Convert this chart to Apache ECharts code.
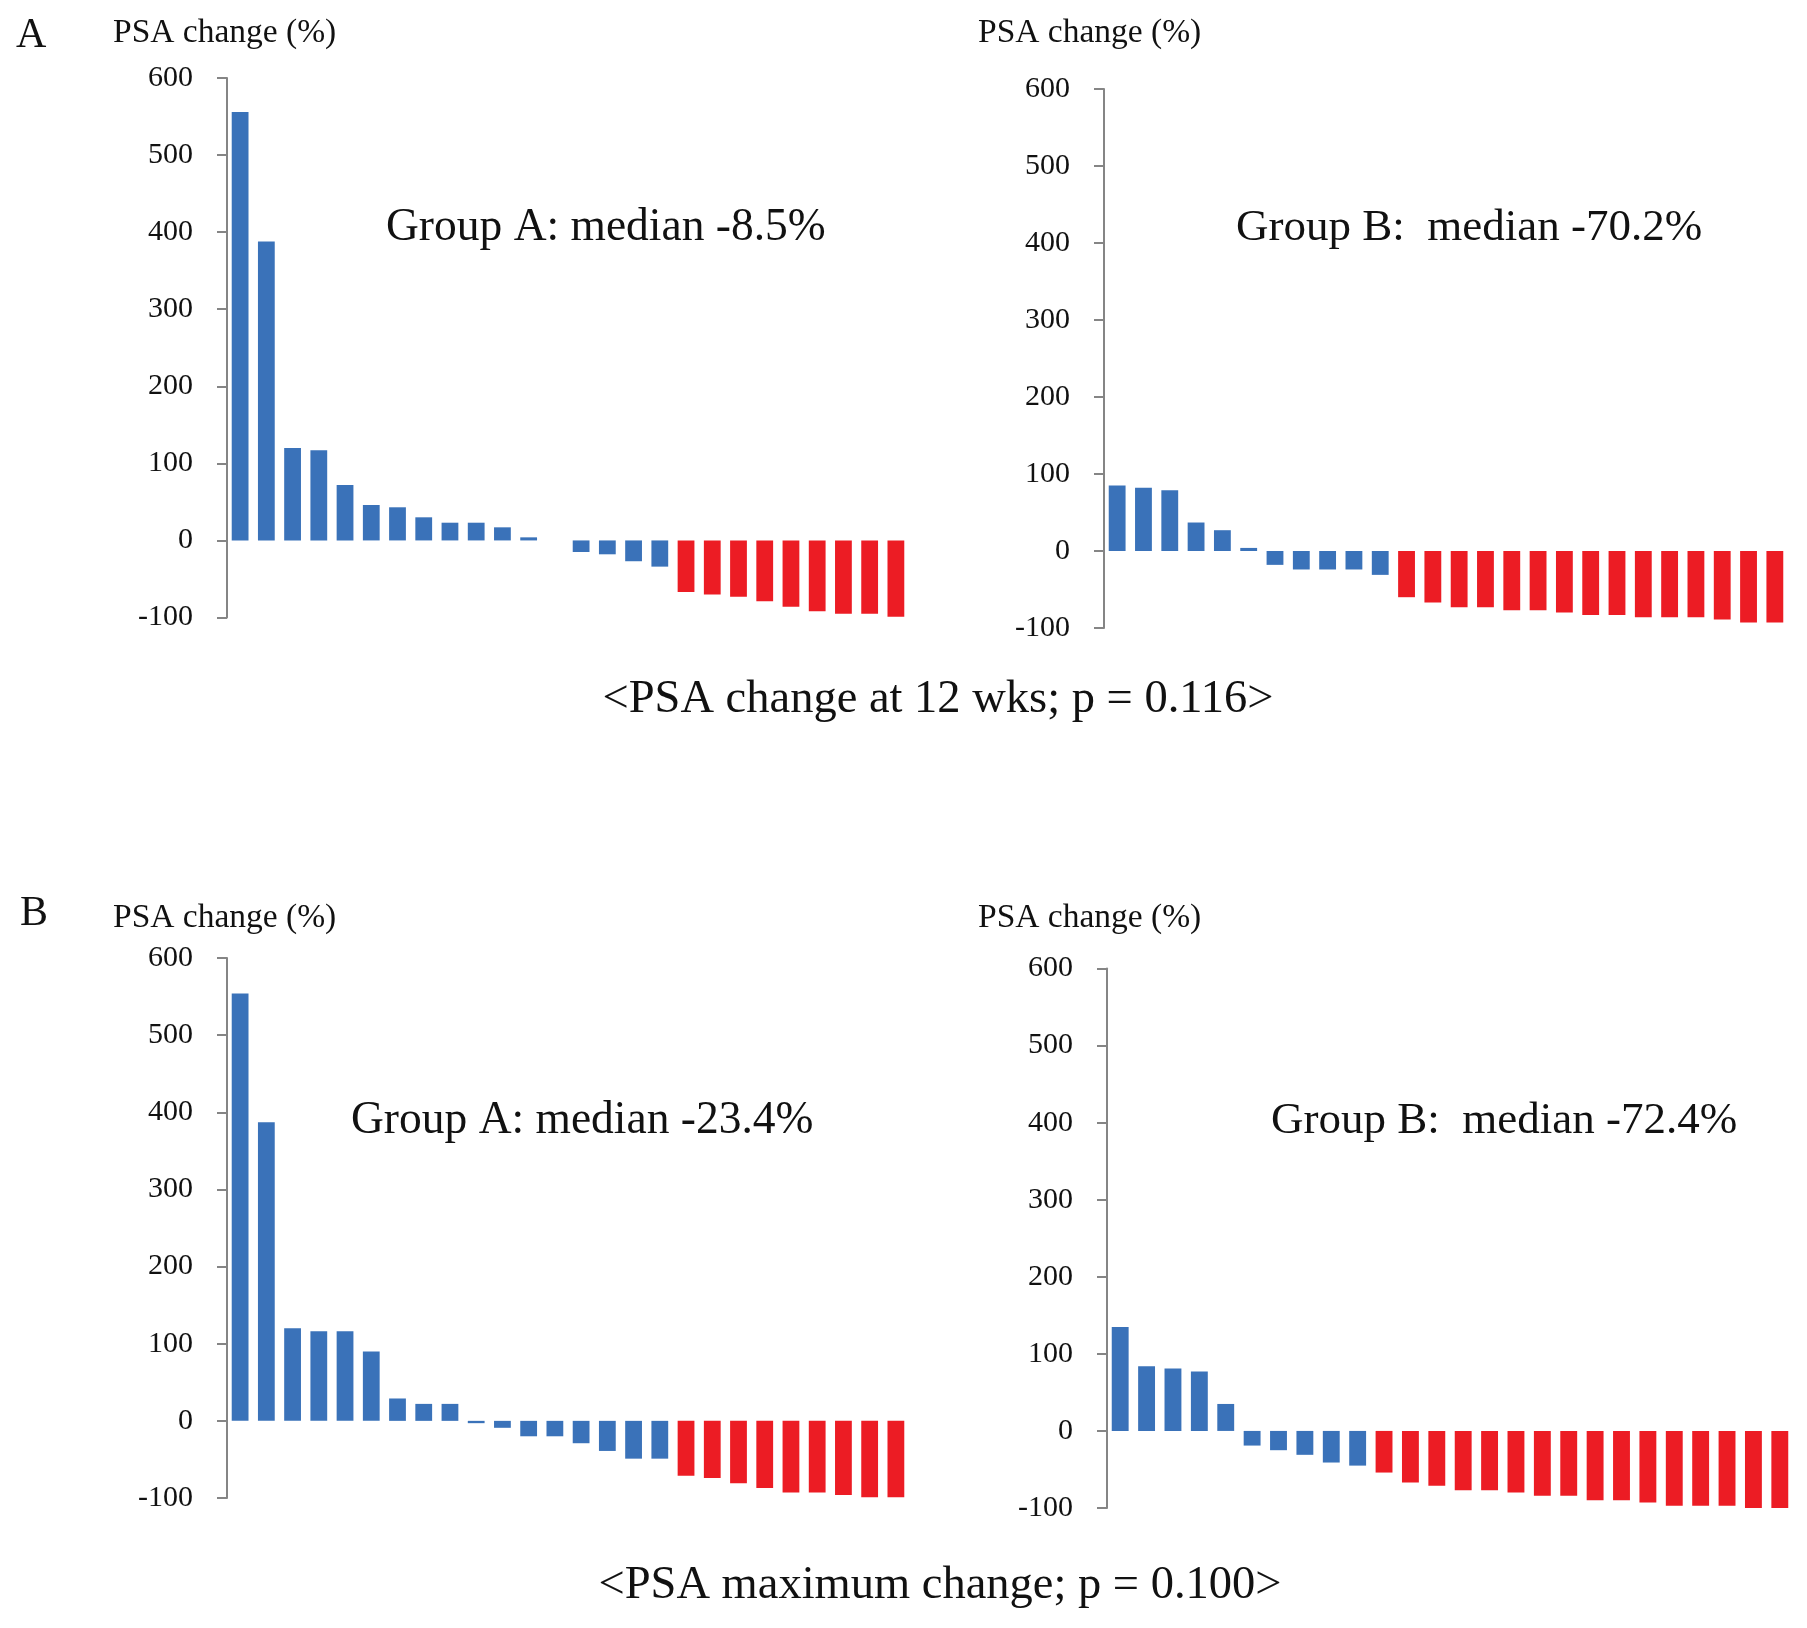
<!DOCTYPE html>
<html>
<head>
<meta charset="utf-8">
<script src="https://cdn.jsdelivr.net/npm/echarts@6/dist/echarts.min.js"></script>
<style>
  html, body { margin: 0; padding: 0; background: #ffffff; }
  #chart { width: 1807px; height: 1628px; }
</style>
</head>
<body>
<div id="chart"></div>
<script>
// ---- Data ----
const patientsA = ['1','2','3','4','5','6','7','8','9','10','11','12','13','14','15','16','17','18','19','20','21','22','23','24','25','26'];
const patientsB = ['1','2','3','4','5','6','7','8','9','10','11','12','13','14','15','16','17','18','19','20','21','22','23','24','25','26'];

// Panel A: PSA change at 12 weeks (%)
const groupA12wk = [556, 388, 120, 117, 72, 46, 43, 30, 23, 23, 17, 4, 0, -15, -18, -27, -34, -67, -70, -73, -79, -86, -92, -95, -95, -99];
const groupB12wk = [85, 82, 79, 37, 27, 4, -18, -24, -24, -24, -31, -60, -67, -73, -73, -77, -77, -80, -83, -83, -86, -86, -86, -89, -93, -93];

// Panel B: PSA maximum change (%)
const groupAMax = [554, 387, 120, 116, 116, 90, 29, 22, 22, -3, -9, -20, -20, -29, -39, -49, -49, -71, -74, -81, -87, -93, -93, -96, -99, -99];
const groupBMax = [135, 84, 81, 77, 35, -19, -25, -31, -41, -45, -54, -67, -71, -77, -77, -80, -84, -84, -90, -90, -93, -97, -97, -97, -100, -100];

const yTicks = [-100, 0, 100, 200, 300, 400, 500, 600];
const yAxisTitle = 'PSA change (%)';
const panelLetters = ['A', 'B'];
const medianTexts = ['Group A: median -8.5%', 'Group B:  median -70.2%', 'Group A: median -23.4%', 'Group B:  median -72.4%'];
const captions = ['<PSA change at 12 wks; p = 0.116>', '<PSA maximum change; p = 0.100>'];
const responseThreshold = -50;

// ---- Styling ----
const FONT = '"Liberation Serif", "Times New Roman", serif';
const BLUE = '#3a72b9';
const RED = '#ec1c24';
const AXIS_GREY = '#858585';

const grids = [
  { left: 227,  top: 78,    width: 682, height: 539.5 },
  { left: 1104, top: 89,    width: 684, height: 539 },
  { left: 227,  top: 958,   width: 682, height: 540 },
  { left: 1107, top: 968.5, width: 686, height: 539.5 }
];
const panelData = [groupA12wk, groupB12wk, groupAMax, groupBMax];
const panelCats = [patientsA, patientsB, patientsA, patientsB];

const xAxes = grids.map((g, i) => ({
  type: 'category', gridIndex: i, data: panelCats[i],
  boundaryGap: true,
  axisLine: { show: false }, axisTick: { show: false }, axisLabel: { show: false },
  splitLine: { show: false }
}));
const yAxes = grids.map((g, i) => ({
  type: 'value', gridIndex: i,
  min: yTicks[0], max: yTicks[yTicks.length - 1], interval: 100,
  axisLine: { show: true, lineStyle: { color: AXIS_GREY, width: 2 } },
  axisTick: { show: true, length: 10, lineStyle: { color: AXIS_GREY, width: 2 } },
  axisLabel: { show: true, margin: 34, fontFamily: FONT, fontSize: 30, color: '#111111' },
  splitLine: { show: false }
}));
const series = panelData.map((d, i) => ({
  type: 'bar', xAxisIndex: i, yAxisIndex: i,
  data: d,
  barCategoryGap: '36%',
  itemStyle: { color: p => (p.value <= responseThreshold ? RED : BLUE) },
  silent: true, animation: false
}));

function txt(text, x, y, size, align) {
  return {
    type: 'text', x: x, y: y, silent: true,
    style: {
      text: text, fill: '#111111',
      font: size + 'px ' + FONT,
      textAlign: align || 'left', textVerticalAlign: 'middle'
    }
  };
}

const graphics = [
  txt(panelLetters[0], 16, 36, 42),
  txt(panelLetters[1], 20, 914, 42),
  txt(yAxisTitle, 113, 33, 33.5),
  txt(yAxisTitle, 978, 33, 33.5),
  txt(yAxisTitle, 113, 918, 33.5),
  txt(yAxisTitle, 978, 918, 33.5),
  txt(medianTexts[0], 386, 228, 45.5),
  txt(medianTexts[1], 1236, 228, 45),
  txt(medianTexts[2], 351, 1121, 45.5),
  txt(medianTexts[3], 1271, 1121, 45),
  txt(captions[0], 938, 700, 46.5, 'center'),
  txt(captions[1], 940, 1586, 46.5, 'center')
];

const chart = echarts.init(document.getElementById('chart'), null, { renderer: 'canvas' });
chart.setOption({
  backgroundColor: '#ffffff',
  animation: false,
  grid: grids,
  xAxis: xAxes,
  yAxis: yAxes,
  series: series,
  graphic: graphics
});
</script>
</body>
</html>
